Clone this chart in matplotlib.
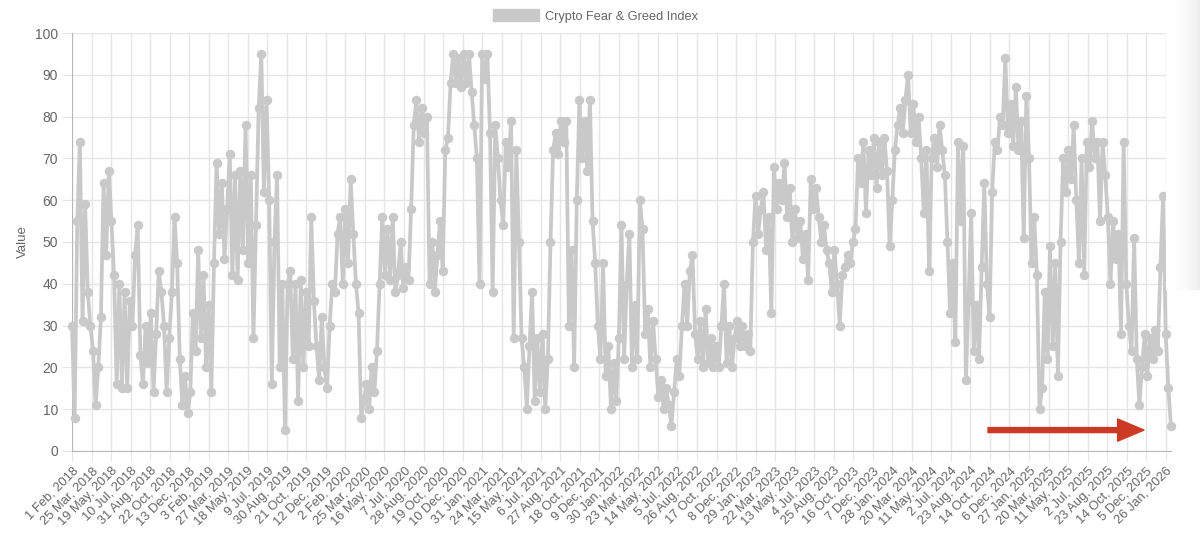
import numpy as np
import matplotlib
matplotlib.use("Agg")
import matplotlib.pyplot as plt
from matplotlib.patches import Patch, FancyArrowPatch

# Crypto Fear & Greed Index, one value read per week (7 days) from 1 Feb 2018
# split into chunks just to keep the lists readable
feb18_jul18 = [30, 8, 55, 74, 31, 59, 38, 30, 24, 11, 20, 32, 64, 47, 67, 55,
               42, 16, 40, 15, 38, 15, 36, 30, 47, 54]
aug18_apr19 = [23, 16, 30, 21, 33, 14, 28, 43, 38, 30, 14, 27, 38, 56, 45, 22,
               11, 18, 9, 14, 33, 24, 48, 27, 42, 20, 35, 14, 45, 69, 52, 64,
               46, 58, 71, 42, 66, 41]
apr19_jan20 = [67, 48, 78, 45, 66, 27, 54, 82, 95, 62, 84, 60, 16, 50, 66, 20,
               40, 5, 40, 43, 22, 40, 12, 41, 20, 38, 25, 56, 36, 25, 17, 32,
               20, 15, 30, 40, 38, 52, 56]
jan20_oct20 = [40, 58, 45, 65, 52, 40, 33, 8, 12, 16, 10, 20, 14, 24, 40, 56,
               42, 53, 41, 56, 38, 42, 50, 39, 44, 41, 58, 78, 84, 74, 82, 76,
               80, 40, 50, 38, 47, 55]
oct20_jul21 = [43, 72, 75, 88, 95, 88, 94, 87, 95, 88, 95, 86, 78, 70, 40, 95,
               89, 95, 76, 38, 78, 70, 60, 54, 74, 68, 79, 27, 72, 50, 27, 20,
               10, 25, 38, 12, 27, 14]
jul21_mar22 = [28, 10, 22, 50, 72, 76, 71, 79, 74, 79, 30, 48, 20, 60, 84, 70,
               79, 67, 84, 55, 45, 30, 22, 45, 18, 25, 10, 21, 12, 27, 54, 22,
               40, 52, 20, 35, 22, 60]
mar22_dec22 = [53, 28, 34, 20, 31, 22, 13, 17, 10, 15, 11, 6, 14, 22, 18, 30,
               40, 30, 43, 47, 28, 22, 31, 20, 34, 21, 27, 20, 25, 20, 30, 40,
               21, 30, 20, 27, 31, 25]
dec22_sep23 = [30, 25, 28, 24, 50, 61, 52, 58, 62, 48, 56, 33, 68, 58, 64, 60,
               69, 56, 63, 50, 58, 51, 55, 46, 52, 41, 65, 58, 63, 56, 50, 54,
               48, 45, 38, 48, 40, 30]
sep23_jun24 = [42, 44, 47, 45, 50, 53, 70, 64, 74, 57, 72, 66, 75, 63, 74, 66,
               75, 67, 49, 60, 72, 78, 82, 76, 84, 90, 76, 83, 74, 80, 70, 57,
               72, 43, 70, 75, 68, 78]
jun24_feb25 = [72, 66, 50, 33, 45, 26, 74, 55, 73, 17, 36, 57, 24, 35, 22, 44,
               64, 40, 32, 62, 74, 72, 80, 78, 94, 76, 83, 73, 87, 72, 79, 51,
               85, 70, 45, 56, 42, 10]
feb25_nov25 = [15, 38, 22, 49, 25, 45, 18, 50, 70, 62, 72, 65, 78, 60, 45, 70,
               42, 74, 68, 79, 70, 74, 55, 74, 66, 56, 40, 55, 46, 52, 28, 74,
               40, 30, 24, 51, 22, 11]
nov25_feb26 = [20, 28, 18, 27, 22, 29, 24, 44, 61, 28, 15, 6]

# x axis labels (Chart.js category axis shows every 52nd day)
TICK_LABELS = [
    "1 Feb, 2018", "25 Mar, 2018", "19 May, 2018", "10 Jul, 2018",
    "31 Aug, 2018", "22 Oct, 2018", "13 Dec, 2018", "3 Feb, 2019",
    "27 Mar, 2019", "18 May, 2019", "9 Jul, 2019", "30 Aug, 2019",
    "21 Oct, 2019", "12 Dec, 2019", "2 Feb, 2020", "25 Mar, 2020",
    "16 May, 2020", "7 Jul, 2020", "28 Aug, 2020", "19 Oct, 2020",
    "10 Dec, 2020", "31 Jan, 2021", "24 Mar, 2021", "15 May, 2021",
    "6 Jul, 2021", "27 Aug, 2021", "18 Oct, 2021", "9 Dec, 2021",
    "30 Jan, 2022", "23 Mar, 2022", "14 May, 2022", "5 Jul, 2022",
    "26 Aug, 2022", "17 Oct, 2022", "8 Dec, 2022", "29 Jan, 2023",
    "22 Mar, 2023", "13 May, 2023", "4 Jul, 2023", "25 Aug, 2023",
    "16 Oct, 2023", "7 Dec, 2023", "28 Jan, 2024", "20 Mar, 2024",
    "11 May, 2024", "2 Jul, 2024", "23 Aug, 2024", "14 Oct, 2024",
    "6 Dec, 2024", "27 Jan, 2025", "20 Mar, 2025", "11 May, 2025",
    "2 Jul, 2025", "23 Aug, 2025", "14 Oct, 2025", "5 Dec, 2025",
    "26 Jan, 2026",
]
TICK_STEP = 52
SAMPLE_STEP = 7

LINE_COLOR = "#c9c9c9"
GRID_COLOR = "#e5e5e5"
TEXT_COLOR = "#666666"

plt.rcParams["font.family"] = ["Liberation Sans", "DejaVu Sans"]

values = np.array(feb18_jul18 + aug18_apr19 + apr19_jan20 + jan20_oct20
                  + oct20_jul21 + jul21_mar22 + mar22_dec22 + dec22_sep23
                  + sep23_jun24 + jun24_feb25 + feb25_nov25 + nov25_feb26)
days = np.arange(len(values)) * SAMPLE_STEP

fig = plt.figure(figsize=(12, 5.44), dpi=100)
ax = fig.add_axes([0.06, 0.171, 0.9158, 0.7683])

ax.plot(days, values, color=LINE_COLOR, lw=2.7, marker="o", ms=5.8,
        mfc=LINE_COLOR, mec=LINE_COLOR, clip_on=False, zorder=3)

ax.set_xlim(0, days[-1])
ax.set_ylim(0, 100)
ax.set_yticks(np.arange(0, 101, 10))
ax.set_xticks(np.arange(len(TICK_LABELS)) * TICK_STEP)
ax.set_xticklabels(TICK_LABELS, rotation=45, ha="right",
                   rotation_mode="anchor", fontsize=9.3, color=TEXT_COLOR)
ax.tick_params(axis="y", labelsize=10, labelcolor=TEXT_COLOR)
ax.tick_params(length=7, color=GRID_COLOR, pad=3)

ax.grid(True, color=GRID_COLOR, lw=1)
ax.set_axisbelow(True)
for side in ["top", "right"]:
    ax.spines[side].set_visible(False)
for side in ["left", "bottom"]:
    ax.spines[side].set_color("#b8b8b8")
ax.set_ylabel("Value", fontsize=9.5, color=TEXT_COLOR, labelpad=4)

# legend box on top, Chart.js style
fig.legend(handles=[Patch(facecolor=LINE_COLOR, edgecolor=LINE_COLOR)],
           labels=["Crypto Fear & Greed Index"], loc="center",
           bbox_to_anchor=(0.496, 0.971), frameon=False, fontsize=9.2,
           handlelength=3.6, handleheight=1.1, handletextpad=0.5,
           labelcolor=TEXT_COLOR)

# red arrow annotation near the bottom right
arrow = FancyArrowPatch((0.831, 0.05), (0.978, 0.05), transform=ax.transAxes,
                        arrowstyle="simple,head_length=1.9,head_width=1.6,tail_width=0.36",
                        mutation_scale=10, color="#cc3a24", zorder=5, clip_on=False)
ax.add_patch(arrow)

# soft grey shadow at the right edge of the screenshot
shade = fig.add_axes([1166 / 1200, 1 - 290 / 544, 34 / 1200, 290 / 544])
grad = np.linspace(0, 1, 64) ** 2
shade.imshow(np.tile(grad, (8, 1)), cmap="Greys", vmin=0, vmax=7,
             aspect="auto", extent=(0, 1, 0, 1))
shade.axis("off")

fig.savefig("out.png", dpi=100)
